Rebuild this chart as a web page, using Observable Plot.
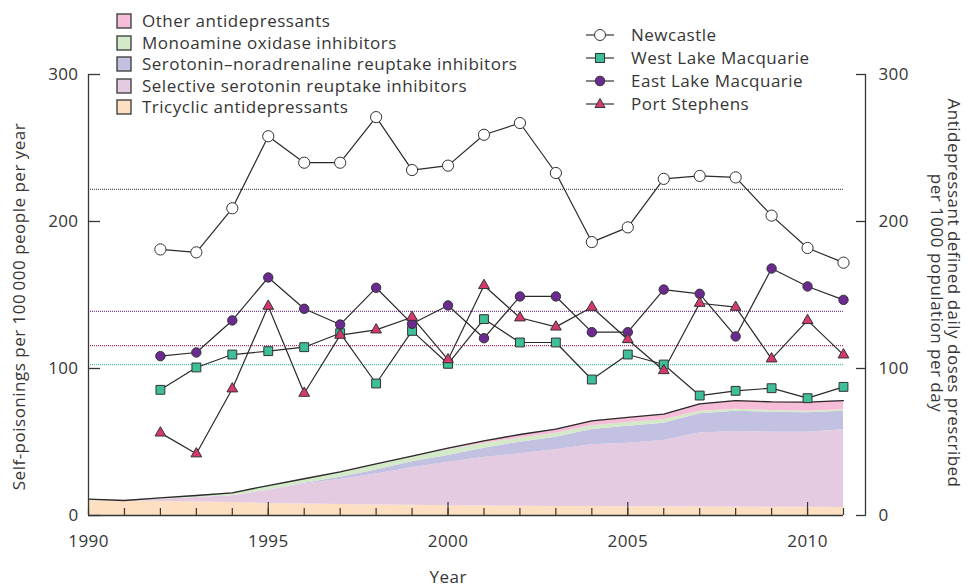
<!DOCTYPE html>
<html><head><meta charset="utf-8">
<script src="https://cdn.jsdelivr.net/npm/d3@7"></script>
<script src="https://cdn.jsdelivr.net/npm/@observablehq/plot@0.6"></script>
<style>
body{margin:0;background:#fff;}
#wrap{position:relative;width:967px;height:586px;font-family:"Open Sans",sans-serif;color:#363636;overflow:hidden;}
#wrap svg.plot{position:absolute;left:0;top:0;}
.row{position:absolute;height:22px;line-height:22px;font-size:17px;letter-spacing:0.5px;white-space:nowrap;}
.row svg{position:absolute;top:0;}
.row span{position:absolute;top:0;}
.title{position:absolute;font-size:17px;letter-spacing:0.5px;white-space:nowrap;text-align:center;line-height:17px;}
</style></head><body><div id="wrap"></div>
<script>
// ---------- data ----------
const areaYears = [1990,1991,1992,1993,1994,1995,1996,1997,1998,1999,2000,2001,2002,2003,2004,2005,2006,2007,2008,2009,2010,2011];
const drugTypes = ["Other antidepressants","Monoamine oxidase inhibitors","Serotonin\u2013noradrenaline reuptake inhibitors","Selective serotonin reuptake inhibitors","Tricyclic antidepressants"];
const drugColors = ["#f5bdd7","#d3e9c8","#c3c1e1","#e4cbe2","#fddfc1"];
const tricyclic = [10,9.8,9.5,9.2,8.8,8.2,7.8,7.4,7.2,7.0,6.6,6.4,6.3,6.2,6.1,6.0,5.9,5.8,5.7,5.6,5.6,5.5];
const ssri      = [0.6,0.2,1.5,3.0,4.7,8.8,13.7,17.1,21.1,25.5,29.7,33.1,35.7,38.5,42.0,43.2,45.1,50.4,51.4,51.1,51.1,52.8];
const snri      = [0,0,0,0,0,0.2,0.5,1.5,2.7,4.0,4.5,6.2,7.9,8.6,10.4,11.5,11.8,13.0,13.9,13.6,13.2,12.7];
const maoi      = [0.4,0.1,0.9,1.3,1.7,3.0,2.8,3.4,3.6,3.3,3.9,3.3,2.9,2.7,2.5,2.6,2.3,1.8,1.3,1.1,1.1,0.9];
const otherAD   = [0.1,0.1,0.1,0.1,0.2,0.2,0.2,0.3,0.5,0.6,1.1,1.8,2.3,2.7,3.4,3.4,3.8,5.0,5.9,5.9,6.1,6.3];

const years = [1992,1993,1994,1995,1996,1997,1998,1999,2000,2001,2002,2003,2004,2005,2006,2007,2008,2009,2010,2011];
const regions = ["Newcastle","West Lake Macquarie","East Lake Macquarie","Port Stephens"];
const regionFill = ["#ffffff","#3fbf99","#6b2a8f","#d23a6e"];
const regionSymbol = ["circle","square","circle","triangle"];
const regionAvgColor = ["#555555","#45c9a0","#7d3fa0","#b2305f"];
const newcastle    = [181,179,209,258,240,240,271,235,238,259,267,233,186,196,229,231,230,204,182,172];
const westLake     = [85.5,100.7,109.5,111.8,114.5,124,89.8,125.6,103.2,133.6,117.7,117.7,92.5,109.5,102.7,81.6,84.8,86.6,79.8,87.5];
const eastLake     = [108.4,110.9,132.7,161.9,140.6,129.9,154.9,130.4,142.9,120.6,149,149,124.7,124.7,153.7,150.8,121.8,168,155.8,146.7];
const portStephens = [56.2,42,86.2,142.4,83.2,122.7,126.3,134.9,106,156.5,134.5,128.3,141.7,119.7,98.6,144.4,141.7,106.6,132.7,109.3];
const regionAverages = [221.8,102.7,138.8,115.6];

const majorTicks = [1990,1995,2000,2005,2010];
const yTicks = [0,100,200,300];

// ---------- build tables ----------
const stackOrder = [...drugTypes].reverse();
const series = {
  "Tricyclic antidepressants": tricyclic,
  "Selective serotonin reuptake inhibitors": ssri,
  "Serotonin\u2013noradrenaline reuptake inhibitors": snri,
  "Monoamine oxidase inhibitors": maoi,
  "Other antidepressants": otherAD
};
const areaRows = stackOrder.flatMap(t => areaYears.map((y, i) => ({year: y, type: t, value: series[t][i]})));
const totals = areaYears.map((y, i) => ({year: y, value: stackOrder.reduce((s, t) => s + series[t][i], 0)}));
const regionValues = [newcastle, westLake, eastLake, portStephens];
const regionRows = regions.flatMap((r, k) => years.map((y, i) => ({year: y, region: r, value: regionValues[k][i]})));
const avgRows = regions.map((r, k) => ({region: r, value: regionAverages[k], color: regionAvgColor[k]}));

const dotSize = {"Newcastle": 5.6, "West Lake Macquarie": 5.0, "East Lake Macquarie": 4.7, "Port Stephens": 4.0};

const fontFamily = '"Open Sans", sans-serif';
const ink = "#363636";

const chart = Plot.plot({
  width: 967, height: 586,
  marginLeft: 88, marginRight: 124, marginTop: 74, marginBottom: 71,
  x: {domain: [1990, 2011]},
  y: {domain: [0, 300]},
  color: {domain: drugTypes, range: drugColors},
  style: {fontFamily, fontSize: "17px", letterSpacing: "0.4px", color: ink, background: "transparent", overflow: "visible"},
  marks: [
    Plot.areaY(areaRows, {x: "year", y: "value", fill: "type", order: stackOrder}),
    Plot.lineY(totals, {x: "year", y: "value", stroke: "#2a2a2a", strokeWidth: 1.3}),
    Plot.ruleY(avgRows, {y: "value", stroke: "color", strokeWidth: 1.3, strokeDasharray: "1,1"}),
    Plot.line(regionRows, {x: "year", y: "value", z: "region", stroke: "#2a2a2a", strokeWidth: 1.2}),
    ...regions.map((r, k) => Plot.dot(regionRows.filter(d => d.region === r), {
      x: "year", y: "value", symbol: () => regionSymbol[k], fill: regionFill[k],
      stroke: "#333", strokeWidth: 1, r: dotSize[r]
    })),
    // axis lines
    Plot.ruleY([0], {stroke: ink, strokeWidth: 1.3}),
    Plot.ruleX([1990], {x: d => d, y1: 0, y2: 300, stroke: ink, strokeWidth: 1.3}),
    Plot.ruleX([2011], {x: d => d, y1: 0, y2: 300, dx: 22, stroke: ink, strokeWidth: 1.3}),
    // x ticks
    Plot.axisX({ticks: areaYears, tickSize: 7, insetBottom: 7, fill: "none", label: null, stroke: ink, strokeWidth: 1.2}),
    Plot.axisX({ticks: majorTicks.slice(1), tickSize: 13, insetBottom: 13, fill: "none", label: null, stroke: ink, strokeWidth: 1.2}),
    Plot.axisX({ticks: majorTicks, tickSize: 0, tickPadding: 19, tickFormat: d => String(d), label: null, fontSize: 17}),
    // y axes
    Plot.axisY({ticks: yTicks, tickSize: 12, insetLeft: 12, tickPadding: 10, label: null, stroke: ink, strokeWidth: 1.3, fontSize: 17}),
    Plot.axisY({anchor: "right", ticks: yTicks, tickSize: 10, insetRight: 10, dx: 22, tickPadding: 13, label: null, stroke: ink, strokeWidth: 1.3, fontSize: 17})
  ]
});
chart.classList.add("plot");
const wrap = document.getElementById("wrap");
wrap.appendChild(chart);

// ---------- legends ----------
drugTypes.forEach((t, i) => {
  const row = document.createElement("div");
  row.className = "row";
  row.style.left = "115px";
  row.style.top = (10 + i * 21.5) + "px";
  row.innerHTML = `<svg width="18" height="22" style="left:0"><rect x="2" y="4" width="14" height="14" fill="${drugColors[i]}" stroke="#444" stroke-width="1.4"/></svg><span style="left:27px">${t}</span>`;
  wrap.appendChild(row);
});
regions.forEach((r, k) => {
  const row = document.createElement("div");
  row.className = "row";
  row.style.left = "584px";
  row.style.top = (24 + k * 23) + "px";
  let sym;
  if (regionSymbol[k] === "circle") sym = `<circle cx="16" cy="11" r="${k === 0 ? 5.5 : 4.8}" fill="${regionFill[k]}" stroke="#333" stroke-width="1"/>`;
  else if (regionSymbol[k] === "square") sym = `<rect x="11.5" y="6.5" width="9" height="9" fill="${regionFill[k]}" stroke="#333" stroke-width="1"/>`;
  else sym = `<path d="M16,5.5 L21,14.5 L11,14.5 Z" fill="${regionFill[k]}" stroke="#333" stroke-width="1"/>`;
  row.innerHTML = `<svg width="32" height="22" style="left:0"><line x1="2" x2="30" y1="11" y2="11" stroke="#333" stroke-width="1.2"/>${sym}</svg><span style="left:47px">${r}</span>`;
  wrap.appendChild(row);
});

// ---------- titles ----------
function addTitle(html, cx, cy, rot) {
  const d = document.createElement("div");
  d.className = "title";
  d.innerHTML = html;
  wrap.appendChild(d);
  const w = d.offsetWidth, h = d.offsetHeight;
  d.style.left = (cx - w / 2) + "px";
  d.style.top = (cy - h / 2) + "px";
  if (rot) d.style.transform = `rotate(${rot}deg)`;
}
addTitle("Year", 448, 576, 0);
addTitle("Self-poisonings per 100\u2009000 people per year", 18, 306, -90);
addTitle("Antidepressant defined daily doses prescribed<br>per 1000 population per day", 945, 293, 90);
</script>
</body></html>
